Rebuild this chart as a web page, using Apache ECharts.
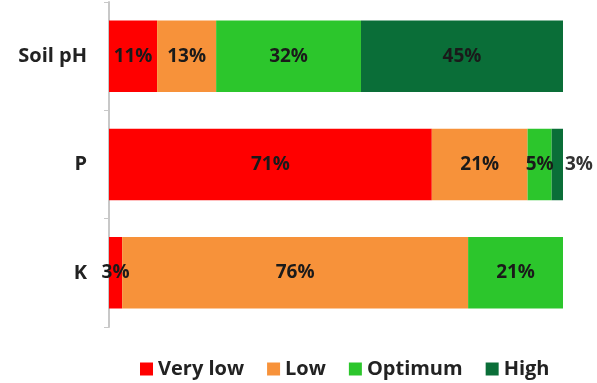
<!DOCTYPE html>
<html><head><meta charset="utf-8">
<script src="https://cdn.jsdelivr.net/npm/echarts@6/dist/echarts.min.js"></script>
<style>html,body{margin:0;padding:0;background:#fff}#c{width:597px;height:383px}</style>
</head><body><div id="c"></div>
<script>
const categories = ['Soil pH', 'P', 'K'];
const seriesNames = ['Very low', 'Low', 'Optimum', 'High'];
const veryLow = [10.6, 71.1, 2.9];
const low = [13.0, 21.1, 76.2];
const optimum = [31.9, 5.3, 20.9];
const high = [44.5, 2.5, 0];
const colors = ['#FF0000', '#F7923A', '#2CC62C', '#0A6E38'];
const values = [veryLow, low, optimum, high];

const chart = echarts.init(document.getElementById('c'));
const fontFamily = '"Open Sans", Lato, sans-serif';
const series = seriesNames.map((name, si) => ({
  name, type: 'bar', stack: 'all', barWidth: '66%',
  itemStyle: { color: colors[si] },
  label: {
    show: true, position: 'inside', color: '#1a1a1a', fontWeight: 'bold',
    fontSize: 19, fontFamily,
    formatter: p => p.value > 0 ? Math.round(p.value) + '%' : ''
  },
  data: values[si].map((v, ci) => {
    if (si === 3 && ci === 1) {
      return { value: v, label: { position: 'right', distance: 2, color: '#333' } };
    }
    return v;
  })
}));

chart.setOption({
  animation: false,
  grid: { left: 109, right: 34, top: 2, bottom: 56 },
  xAxis: { type: 'value', min: 0, max: 100, show: false },
  yAxis: {
    type: 'category', data: categories, inverse: true,
    axisLine: { show: true, lineStyle: { color: '#C8C8C8', width: 2 } },
    axisTick: { show: true, length: 5, lineStyle: { color: '#C8C8C8' } },
    axisLabel: { color: '#222', fontWeight: 'bold', fontSize: 20, fontFamily, margin: 22 }
  },
  legend: {
    top: 354, left: 135, icon: 'rect', itemWidth: 13, itemHeight: 13, itemGap: 23,
    textStyle: { color: '#222', fontWeight: 'bold', fontSize: 20, fontFamily },
    data: seriesNames
  },
  series
});
</script></body></html>
